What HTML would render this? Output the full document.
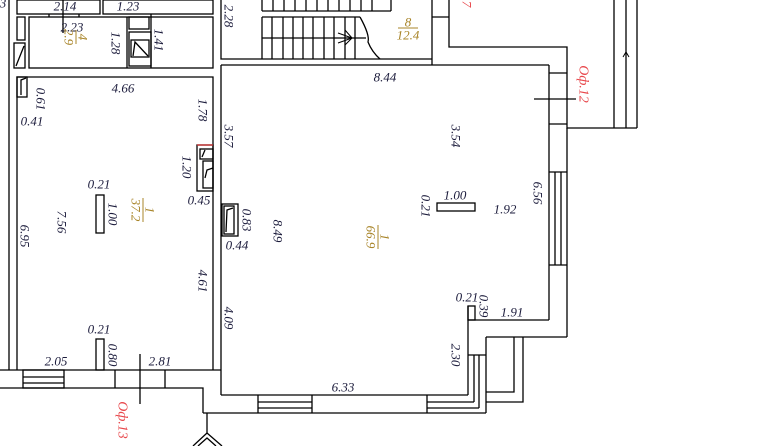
<!DOCTYPE html>
<html><head><meta charset="utf-8"><style>
html,body{margin:0;padding:0;background:#fff;}
svg{display:block;}
text{font-family:"Liberation Serif",serif;font-style:italic;font-size:13px;fill:#1c1c3c;text-anchor:middle;dominant-baseline:central;}
.g{fill:#a88428;}
.r{fill:#e8484c;}
</style></head><body>
<svg width="762" height="446" viewBox="0 0 762 446" xmlns="http://www.w3.org/2000/svg">
<g stroke="#000" stroke-width="1.3" fill="none">
<line x1="9" y1="0" x2="9" y2="370"/>
<rect x="17" y="0" width="83" height="14"/>
<rect x="103" y="0" width="110" height="14"/>
<line x1="63" y1="0" x2="63" y2="33"/>
<rect x="29" y="17" width="184" height="51"/>
<line x1="49" y1="14" x2="49" y2="17"/><line x1="79" y1="14" x2="79" y2="17"/>
<line x1="127" y1="17" x2="127" y2="68"/>
<line x1="151" y1="14" x2="151" y2="68"/>
<rect x="129" y="17" width="20" height="12"/>
<rect x="129" y="32" width="22" height="34"/>
<rect x="131" y="40" width="18" height="17"/>
<path d="M133 56 L135 42 L148 56"/>
<rect x="17" y="17" width="8" height="23"/>
<rect x="14" y="43" width="11" height="25"/>
<path d="M16 66 L24 46"/>
<rect x="17" y="77" width="10" height="20"/>
<path d="M21 95 L21 80 L26 78"/>
<polyline points="17,370 17,77 213,77 213,370"/>
<rect x="96" y="195" width="8" height="38"/>
<rect x="96" y="339" width="8" height="31"/>
<rect x="197" y="145" width="16" height="46"/>
<rect x="200" y="149" width="13" height="10"/>
<rect x="203" y="161" width="10" height="27"/>
<path d="M202 157 L205 150"/><path d="M205 178 L207 170 L213 168"/>
<polyline points="221,0 221,59 262,59"/>
<line x1="221" y1="65" x2="221" y2="395"/>
<rect x="222" y="204" width="16" height="32"/>
<rect x="224" y="206" width="10" height="28"/>
<path d="M226 232 L227 210 L233 208"/>
<line x1="262" y1="59" x2="432" y2="59"/>
<line x1="221" y1="65" x2="549" y2="65"/>
<line x1="262" y1="11" x2="391" y2="11"/>
<line x1="262" y1="0" x2="262" y2="11"/><line x1="273" y1="0" x2="273" y2="11"/><line x1="284" y1="0" x2="284" y2="11"/><line x1="295" y1="0" x2="295" y2="11"/><line x1="306" y1="0" x2="306" y2="11"/><line x1="317" y1="0" x2="317" y2="11"/><line x1="328" y1="0" x2="328" y2="11"/><line x1="339" y1="0" x2="339" y2="11"/><line x1="350" y1="0" x2="350" y2="11"/><line x1="361" y1="0" x2="361" y2="11"/><line x1="372" y1="0" x2="372" y2="11"/><line x1="391" y1="0" x2="391" y2="11"/>
<line x1="262" y1="17" x2="360" y2="17"/>
<line x1="262" y1="38" x2="366" y2="38"/>
<line x1="262" y1="17" x2="262" y2="59"/><line x1="272" y1="17" x2="272" y2="59"/><line x1="283" y1="17" x2="283" y2="59"/><line x1="293" y1="17" x2="293" y2="59"/><line x1="303" y1="17" x2="303" y2="59"/><line x1="313" y1="17" x2="313" y2="59"/><line x1="324" y1="17" x2="324" y2="59"/><line x1="334" y1="17" x2="334" y2="59"/><line x1="345" y1="17" x2="345" y2="59"/><line x1="355" y1="17" x2="355" y2="59"/>
<path d="M360 17 Q370 35 368 42 Q372 52 380 59"/>
<path d="M352 38 L338 33 M352 38 L338 43 M352 38 L345 30 M352 38 L345 45" stroke-width="1"/>
<line x1="432" y1="0" x2="432" y2="65"/>
<line x1="432" y1="17" x2="449" y2="17"/>
<polyline points="449,0 449,47 567,47 567,128 637,128"/>
<line x1="614" y1="0" x2="614" y2="128"/>
<line x1="626" y1="0" x2="626" y2="128"/>
<line x1="637" y1="0" x2="637" y2="128"/>
<path d="M623 57 L626 52 L629 57" stroke-width="1"/>
<line x1="549" y1="65" x2="549" y2="320"/>
<line x1="549" y1="73" x2="567" y2="73"/>
<line x1="549" y1="124" x2="567" y2="124"/>
<line x1="534" y1="99" x2="576" y2="99"/>
<line x1="567" y1="128" x2="567" y2="337"/>
<line x1="549" y1="172" x2="567" y2="172"/>
<line x1="549" y1="265" x2="567" y2="265"/>
<line x1="555" y1="172" x2="555" y2="265"/>
<line x1="561" y1="172" x2="561" y2="265"/>
<rect x="437" y="203" width="38" height="8"/>
<line x1="468" y1="320" x2="549" y2="320"/>
<rect x="468" y="306" width="7" height="14"/>
<line x1="468" y1="306" x2="468" y2="395"/>
<line x1="468" y1="355" x2="486" y2="355"/>
<line x1="486" y1="337" x2="567" y2="337"/>
<line x1="486" y1="337" x2="486" y2="413"/>
<polyline points="514,337 514,392 486,392"/>
<polyline points="523,337 523,402 486,402"/>
<line x1="474" y1="355" x2="474" y2="402"/>
<line x1="479" y1="355" x2="479" y2="408"/>
<line x1="221" y1="395" x2="468" y2="395"/>
<line x1="203" y1="413" x2="486" y2="413"/>
<line x1="258" y1="395" x2="258" y2="413"/><line x1="312" y1="395" x2="312" y2="413"/>
<line x1="258" y1="402" x2="312" y2="402"/><line x1="258" y1="408" x2="312" y2="408"/>
<line x1="427" y1="395" x2="427" y2="413"/>
<line x1="427" y1="402" x2="474" y2="402"/><line x1="427" y1="408" x2="479" y2="408"/>
<line x1="0" y1="370" x2="221" y2="370"/>
<polyline points="0,388 203,388 203,413"/>
<rect x="23" y="370" width="41" height="18"/>
<line x1="23" y1="377" x2="64" y2="377"/><line x1="23" y1="383" x2="64" y2="383"/>
<line x1="115" y1="370" x2="115" y2="388"/>
<line x1="165" y1="370" x2="165" y2="388"/>
<line x1="140" y1="354" x2="140" y2="404"/>
<line x1="207" y1="413" x2="207" y2="433"/>
<path d="M193 446 L207 433 L222 446 M198 446 L207 438 L216 446"/>
</g>
<line x1="197" y1="145" x2="213" y2="145" stroke="#d03030" stroke-width="1.3"/>

<text x="3" y="3">3</text>
<text x="65" y="6">2.14</text>
<text x="128" y="6">1.23</text>
<text x="72" y="27">2.23</text>
<text transform="translate(116,43) rotate(90)">1.28</text>
<text transform="translate(159,40) rotate(90)">1.41</text>
<text transform="translate(229,16) rotate(90)">2.28</text>
<g transform="translate(76,37) rotate(90)"><text class="g" x="0" y="-7">4</text><line x1="-7" y1="0" x2="7" y2="0" stroke="#a88428"/><text class="g" x="0" y="7">2.9</text></g>
<text x="123" y="88">4.66</text>
<text transform="translate(41,99) rotate(90)">0.61</text>
<text x="32" y="121">0.41</text>
<text transform="translate(203,110) rotate(90)">1.78</text>
<text transform="translate(229,136) rotate(90)">3.57</text>
<text transform="translate(187,167) rotate(90)">1.20</text>
<text x="99" y="184">0.21</text>
<text transform="translate(113,214) rotate(90)">1.00</text>
<g transform="translate(143,210) rotate(90)"><text class="g" x="0" y="-7">1</text><line x1="-12" y1="0" x2="12" y2="0" stroke="#a88428"/><text class="g" x="0" y="7">37.2</text></g>
<text x="199" y="200">0.45</text>
<text transform="translate(62,222) rotate(90)">7.56</text>
<text transform="translate(25,236) rotate(90)">6.95</text>
<text transform="translate(203,281) rotate(90)">4.61</text>
<text transform="translate(247,220) rotate(90)">0.83</text>
<text x="237" y="245">0.44</text>
<text transform="translate(278,231) rotate(90)">8.49</text>
<text transform="translate(229,318) rotate(90)">4.09</text>
<text x="99" y="329">0.21</text>
<text transform="translate(113,355) rotate(90)">0.80</text>
<text x="56" y="361">2.05</text>
<text x="160" y="361">2.81</text>
<text x="385" y="77">8.44</text>
<text transform="translate(456,136) rotate(90)">3.54</text>
<g transform="translate(408,28)"><text class="g" x="0" y="-6">8</text><line x1="-10" y1="0" x2="10" y2="0" stroke="#a88428"/><text class="g" x="0" y="7">12.4</text></g>
<g transform="translate(378,237) rotate(90)"><text class="g" x="0" y="-7">1</text><line x1="-12" y1="0" x2="12" y2="0" stroke="#a88428"/><text class="g" x="0" y="7">66.9</text></g>
<text x="455" y="195">1.00</text>
<text transform="translate(426,206) rotate(90)">0.21</text>
<text x="505" y="209">1.92</text>
<text transform="translate(538,193) rotate(90)">6.56</text>
<text x="467" y="297">0.21</text>
<text transform="translate(484,306) rotate(90)">0.39</text>
<text x="512" y="312">1.91</text>
<text transform="translate(456,355) rotate(90)">2.30</text>
<text x="343" y="387">6.33</text>
<text class="r" transform="translate(467,4) rotate(90)">7</text>
<text class="r" transform="translate(583,84) rotate(90)" style="font-size:14px">Оф.12</text>
<text class="r" transform="translate(122,420) rotate(90)" style="font-size:14px">Оф.13</text>
</svg>
</body></html>
